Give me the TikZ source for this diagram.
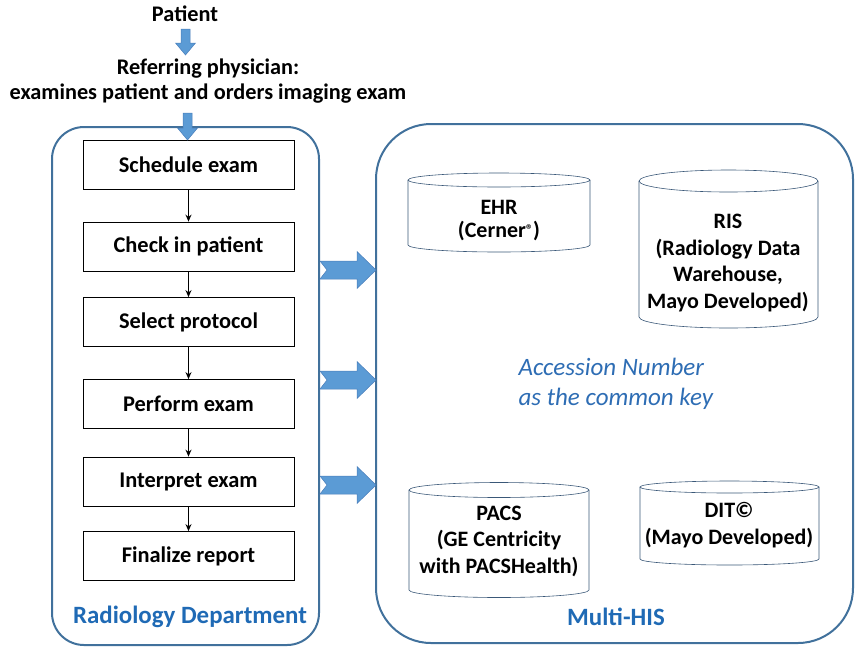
\documentclass[tikz,border=0pt]{standalone}
\usepackage{fontspec}
\setmainfont{Carlito}
\usetikzlibrary{arrows.meta}
\definecolor{frame}{HTML}{41719C}
\definecolor{arrowfill}{HTML}{5B9BD5}
\definecolor{arrowline}{HTML}{4A7EBB}
\definecolor{labelblue}{HTML}{1F6AB5}
\definecolor{keyblue}{HTML}{2E6DB4}
\definecolor{cylline}{HTML}{3A5878}
\newcommand{\mycyl}[5]{% x1, x2, ytop, ybot, ry
  \draw[cyl] ({(#1+#2)/2},#3) ellipse [x radius={(#2-#1)/2}, y radius=#5];
  \draw[cyl] (#1,#3) -- (#1,#4) arc [start angle=180, end angle=0, x radius={(#2-#1)/2}, y radius=#5] -- (#2,#3);
}
\newcommand{\rightblock}[1]{% center y
  \draw[blockarrow] (320,#1-9) -- (357,#1-9) -- (357,#1-18.5) -- (376,#1) -- (357,#1+18.5) -- (357,#1+9) -- (320,#1+9) -- (327,#1) -- cycle;
}
\newcommand{\downblock}[4]{% x, ytop, yhead, ytip
  \draw[blockarrow] (#1-4.5,#2) -- (#1+4.5,#2) -- (#1+4.5,#3) -- (#1+10,#3) -- (#1,#4) -- (#1-10,#3) -- (#1-4.5,#3) -- cycle;
}
\begin{document}
\begin{tikzpicture}[x=1pt,y=-1pt,
  stepbox/.style={draw=black, line width=0.8pt, minimum width=211pt, minimum height=49pt, inner sep=0pt, font=\fontsize{22.4}{24}\selectfont\bfseries},
  container/.style={draw=frame, line width=2pt},
  flow/.style={-{Stealth[length=7pt,width=6pt]}, line width=1.3pt},
  blockarrow/.style={fill=arrowfill, draw=arrowline, line width=0.5pt},
  cyl/.style={draw=cylline, line width=0.6pt},
  cyltext/.style={align=center, font=\fontsize{22}{26.5}\selectfont\bfseries},
  toptext/.style={align=center, font=\fontsize{22.3}{25}\selectfont\bfseries},
  grouplabel/.style={text=labelblue, font=\fontsize{24.9}{28}\selectfont\bfseries}
]
\useasboundingbox (0,0) rectangle (856,649);

% containers
\draw[container, rounded corners=32pt] (52,127) rectangle (319,645);
\draw[container, rounded corners=55pt] (376,124) rectangle (853,643);

% top texts
\node[toptext] (patient) at (185,14) {Patient};
\node[toptext] (refer) at (208,81.5) {Referring physician:\\examines patient and orders imaging exam};

% steps
\node[stepbox] (s1) at (188.5,164.5) {Schedule exam};
\node[stepbox] (s2) at (188.5,246.5) {Check in patient};
\node[stepbox] (s3) at (188.5,322) {Select protocol};
\node[stepbox] (s4) at (188.5,404) {Perform exam};
\node[stepbox] (s5) at (188.5,481.5) {Interpret exam};
\node[stepbox] (s6) at (188.5,556) {Finalize report};

\draw[flow] (s1) -- (s2);
\draw[flow] (s2) -- (s3);
\draw[flow] (s3) -- (s4);
\draw[flow] (s4) -- (s5);
\draw[flow] (s5) -- (s6);

% down block arrows
\downblock{185.5}{29}{43}{55}
\downblock{187.5}{113}{128}{140}

% right block arrows
\rightblock{270}
\rightblock{380}
\rightblock{485}

% cylinders
\mycyl{408}{590}{180}{245}{7}
\node[cyltext, font=\fontsize{22}{23}\selectfont\bfseries] (ehr) at (499,221) {EHR\\(Cerner{\fontsize{14}{14}\selectfont\raisebox{3pt}{\textregistered}})};
\mycyl{639}{818}{181}{317}{11}
\node[cyltext] (ris) at (728,263) {RIS\\(Radiology Data\\Warehouse,\\Mayo Developed)};
\mycyl{409}{589}{490}{590}{7.5}
\node[cyltext] (pacs) at (499,541) {PACS\\(GE Centricity\\with PACSHealth)};
\mycyl{640}{819}{487}{559}{6}
\node[cyltext] (dit) at (729,525) {DIT\textcopyright\\(Mayo Developed)};

% key text
\node[anchor=west, align=left, text=keyblue, font=\fontsize{25}{30}\selectfont\itshape] (key) at (515,384) {Accession Number\\as the common key};

% group labels
\node[grouplabel] (raddept) at (190,617) {Radiology Department};
\node[grouplabel] (multihis) at (616,617) {Multi-HIS};
\end{tikzpicture}
\end{document}
